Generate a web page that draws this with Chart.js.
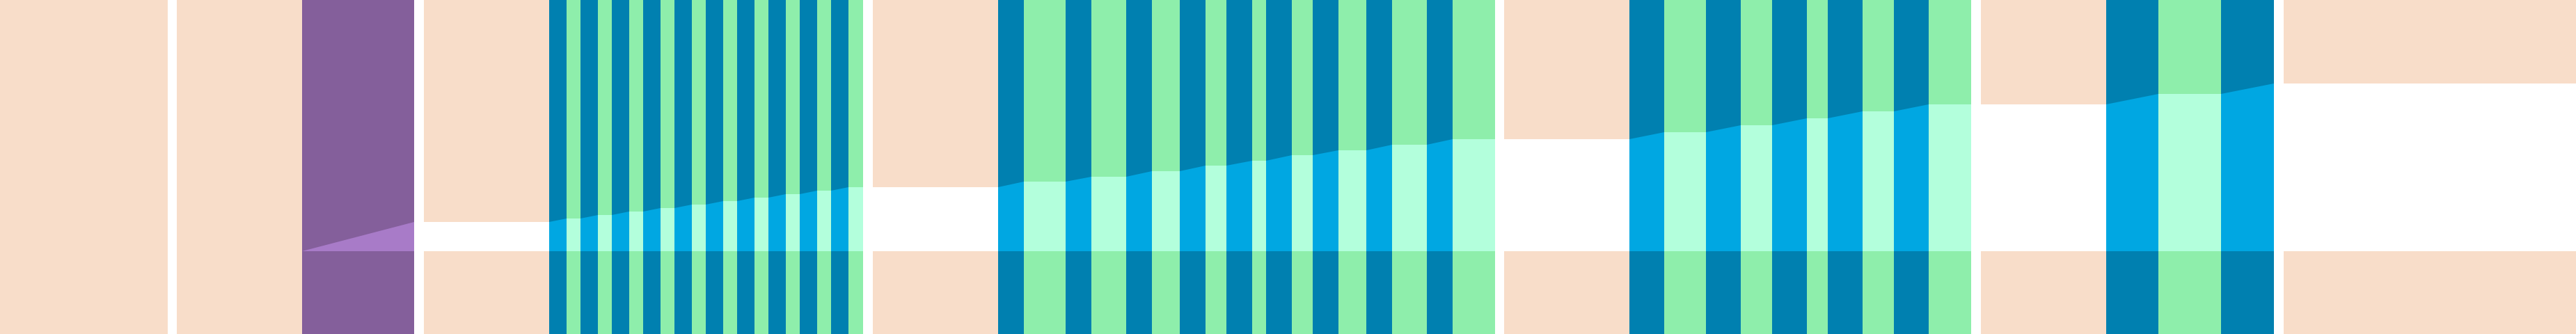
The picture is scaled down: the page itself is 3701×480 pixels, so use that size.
<!DOCTYPE html>
<html>
<head>
<meta charset="utf-8">
<script src="https://cdn.jsdelivr.net/npm/chart.js@4.4.1/dist/chart.umd.min.js"></script>
<style>
html,body{margin:0;padding:0;background:#ffffff;overflow:hidden}
canvas{display:block}
</style>
</head>
<body>
<canvas id="c" width="3701" height="480"></canvas>
<script>
// Phase kinds in time order
const phaseKind = [
  'rest','gap','rest','prep','gap','rest',
  'work','break','work','break','work','break','work','break','work','break',
  'work','break','work','break','work','break','work','break','work','break',
  'gap','rest',
  'work','break','work','break','work','break','work','break','work','break',
  'work','break','work','break','work','break','work','break',
  'gap','rest',
  'work','break','work','break','work','break','work','break','work','break',
  'gap','rest',
  'work','break','work',
  'gap','rest'
];
// Time at which each phase ends
const phaseEnd = [
  241,254,434,595,609,789,
  814,834,859,879,904,924,949,969,994,1014,
  1039,1059,1084,1104,1129,1149,1174,1194,1219,1240,
  1254,1434,
  1471,1531,1568,1618,1655,1695,1732,1762,1799,1819,
  1856,1886,1923,1963,2000,2050,2087,2148,
  2161,2341,
  2391,2451,2501,2546,2596,2626,2676,2721,2771,2832,
  2846,3026,
  3101,3191,3267,
  3281,3701
];
// Cumulative progress at the end of each phase
const progressEnd = [
  0,0,0,42,42,42,
  47,47,52,52,57,57,62,62,67,67,
  72,72,77,77,82,82,87,87,92,92,
  92,92,
  100,100,107,107,115,115,123,123,130,130,
  138,138,145,145,153,153,161,161,
  161,161,
  171,171,181,181,191,191,201,201,211,211,
  211,211,
  226,226,241,
  241,241
];

const baseColor = {rest:'#F8DDC9', prep:'#845F9B', work:'#0080B0', break:'#8EEEAB', gap:'#FFFFFF'};
const liteColor = {rest:'#FFFFFF', prep:'#A87BC8', work:'#00A7E2', break:'#B3FFDC'};

const datasets = [];
let t0 = 0, p0 = 0;
for (let i = 0; i < phaseKind.length; i++) {
  const k = phaseKind[i], t1 = phaseEnd[i], p1 = progressEnd[i];
  datasets.push({
    data: [{x: t0, y: 361}, {x: t1, y: 361}],
    fill: 'start', backgroundColor: baseColor[k], borderColor: 'transparent',
    borderWidth: 0, pointRadius: 0, order: 2
  });
  if (k !== 'gap' && (p0 > 0 || p1 > 0)) {
    datasets.push({
      data: [{x: t0, y: p0}, {x: t1, y: p1}],
      fill: {value: 0}, backgroundColor: liteColor[k], borderColor: 'transparent',
      borderWidth: 0, pointRadius: 0, order: 1
    });
  }
  t0 = t1; p0 = p1;
}

new Chart(document.getElementById('c'), {
  type: 'line',
  data: { datasets },
  options: {
    responsive: false,
    devicePixelRatio: 1,
    animation: false,
    events: [],
    layout: { padding: 0 },
    plugins: { legend: { display: false }, tooltip: { enabled: false } },
    elements: { line: { tension: 0 } },
    scales: {
      x: { type: 'linear', min: 0, max: 3701, display: false },
      y: { type: 'linear', min: -119, max: 361, display: false }
    }
  }
});
</script>
</body>
</html>
